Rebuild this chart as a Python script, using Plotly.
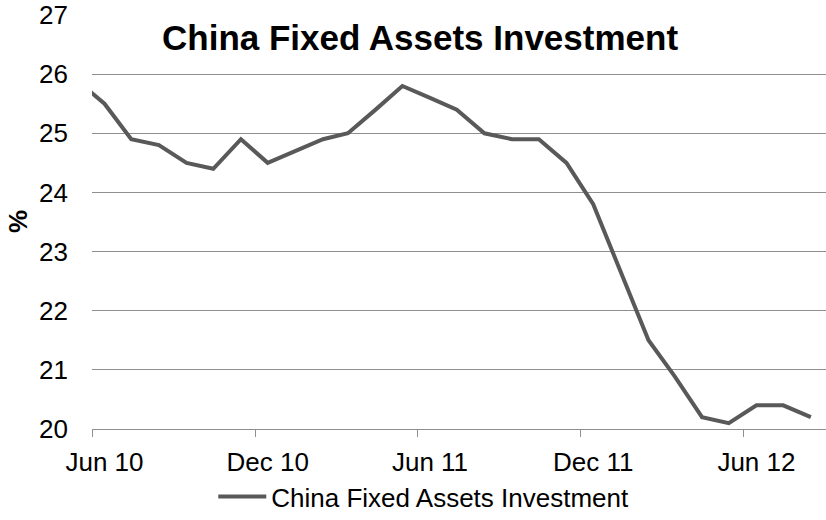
import plotly.graph_objects as go

# Monthly year-to-date growth of China's fixed asset investment (%), dated mid-month
months = [
    "2010-05-15", "2010-06-15", "2010-07-15", "2010-08-15", "2010-09-15",
    "2010-10-15", "2010-11-15", "2010-12-15", "2011-02-15", "2011-03-15",
    "2011-04-15", "2011-05-15", "2011-06-15", "2011-07-15", "2011-08-15",
    "2011-09-15", "2011-10-15", "2011-11-15", "2011-12-15", "2012-02-15",
    "2012-03-15", "2012-04-15", "2012-05-15", "2012-06-15", "2012-07-15",
    "2012-08-15",
]
fai_growth = [
    25.9, 25.5, 24.9, 24.8, 24.5,
    24.4, 24.9, 24.5, 24.9, 25.0,
    25.4, 25.8, 25.6, 25.4, 25.0,
    24.9, 24.9, 24.5, 23.8, 21.5,
    20.9, 20.2, 20.1, 20.4, 20.4,
    20.2,
]

# Labels sit mid-month, tick marks at the start of each labelled month
label_dates = ["2010-06-15", "2010-12-15", "2011-06-15", "2011-12-15", "2012-06-15"]
label_text = ["Jun 10", "Dec 10", "Jun 11", "Dec 11", "Jun 12"]
tick_mark_dates = ["2010-06-01", "2010-12-01", "2011-06-01", "2011-12-01", "2012-06-01"]

y_ticks = [20, 21, 22, 23, 24, 25, 26, 27]

series_name = "China Fixed Assets Investment"
font_family = "Liberation Sans, Arial, sans-serif"
grid_color = "#8f8f8f"

fig = go.Figure()
fig.add_trace(go.Scatter(
    x=months,
    y=fai_growth,
    mode="lines",
    name=series_name,
    line=dict(color="#595959", width=4),
))

fig.update_layout(
    width=826,
    height=520,
    margin=dict(l=92, r=0, t=15, b=90),
    paper_bgcolor="white",
    plot_bgcolor="white",
    font=dict(family=font_family, color="black", size=26),
    showlegend=True,
    legend=dict(
        orientation="h",
        x=0.452, xanchor="center",
        y=-0.164, yanchor="middle",
        font=dict(size=26, family=font_family, color="black"),
        itemwidth=48,
    ),
    xaxis=dict(
        type="date",
        range=["2010-06-01", "2012-09-01"],
        tickmode="array",
        tickvals=label_dates,
        ticktext=label_text,
        ticks="outside",
        ticklen=0,
        tickcolor="rgba(0,0,0,0)",
        ticklabelstandoff=10,
        showgrid=False,
        showline=True,
        linecolor=grid_color,
        linewidth=1,
        zeroline=False,
        tickfont=dict(size=26),
        minor=dict(
            tickmode="array",
            tickvals=tick_mark_dates,
            ticks="outside",
            ticklen=7,
            tickwidth=1,
            tickcolor=grid_color,
            showgrid=False,
        ),
    ),
    yaxis=dict(
        range=[20, 27],
        tickmode="array",
        tickvals=y_ticks,
        ticks="",
        showgrid=True,
        gridcolor=grid_color,
        gridwidth=1,
        zeroline=False,
        showline=False,
        ticklabelstandoff=23,
        tickfont=dict(size=26),
    ),
    annotations=[
        dict(
            text="<b>China Fixed Assets Investment</b>",
            xref="paper", yref="paper",
            x=0.4475, y=0.945,
            xanchor="center", yanchor="middle",
            showarrow=False,
            font=dict(size=35, family=font_family, color="black"),
        ),
        dict(
            text="<b>%</b>",
            xref="paper", yref="paper",
            x=-0.1008, y=0.5,
            xanchor="center", yanchor="middle",
            textangle=-90,
            showarrow=False,
            font=dict(size=26, family=font_family, color="black"),
        ),
    ],
)

fig.write_html("out.html")
